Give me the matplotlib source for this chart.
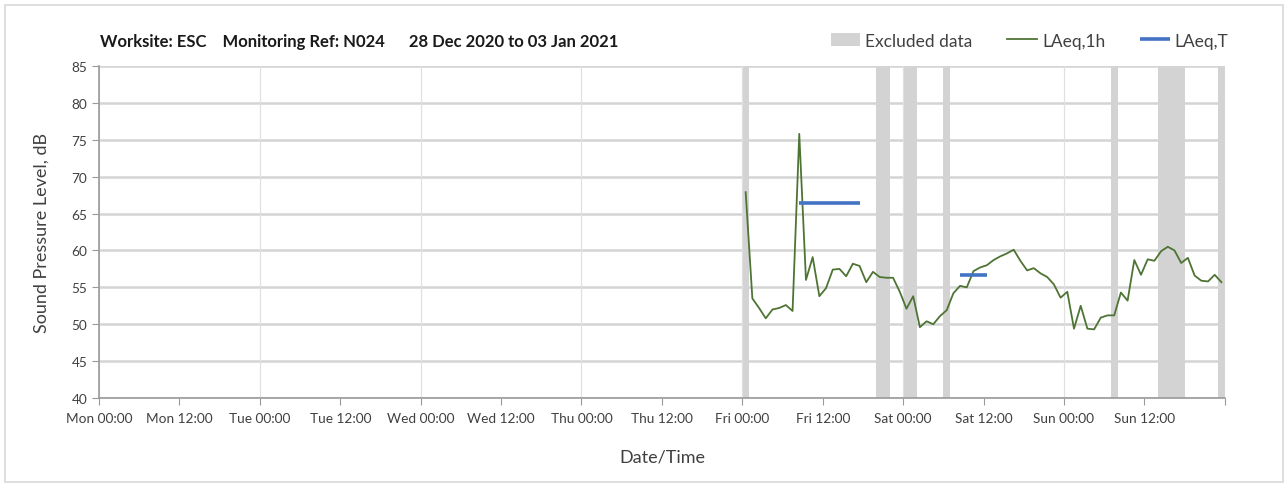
import pandas as pd
import matplotlib
matplotlib.use('Agg')
import matplotlib.pyplot as plt
from matplotlib.patches import Rectangle

plt.rcParams['font.family'] = ['Lato', 'DejaVu Sans']

# Hourly LAeq,1h values, Fri 01 Jan 2021 00:00 onwards (plotted mid-hour)
laeq_1h = [67.9, 53.5, 52.2, 50.8, 52.0, 52.2, 52.6, 51.8, 75.8, 56.0,
           59.1, 53.8, 54.9, 57.4, 57.5, 56.5, 58.2, 57.9, 55.7, 57.1,
           56.4, 56.3, 56.3, 54.4, 52.1, 53.8, 49.6, 50.4, 50.0, 51.1,
           51.9, 54.2, 55.2, 55.0, 57.2, 57.7, 58.0, 58.7, 59.2, 59.6,
           60.1, 58.6, 57.3, 57.6, 56.9, 56.4, 55.4, 53.6, 54.4, 49.4,
           52.5, 49.4, 49.3, 50.9, 51.2, 51.2, 54.3, 53.2, 58.7, 56.7,
           58.8, 58.6, 59.9, 60.5, 60.0, 58.3, 59.0, 56.6, 55.9, 55.8,
           56.7, 55.7]
times_1h = pd.date_range('2021-01-01 00:30', periods=len(laeq_1h), freq='h')

# LAeq,T periods
laeq_t_start = ['2021-01-01 08:30', '2021-01-02 08:30']
laeq_t_end = ['2021-01-01 17:30', '2021-01-02 12:30']
laeq_t = [66.4, 56.7]

# Excluded data periods
excl_start = ['2021-01-01 00:00', '2021-01-01 20:00', '2021-01-02 00:00',
              '2021-01-02 06:00', '2021-01-03 07:00', '2021-01-03 14:00',
              '2021-01-03 23:00']
excl_end = ['2021-01-01 01:00', '2021-01-01 22:00', '2021-01-02 02:00',
            '2021-01-02 07:00', '2021-01-03 08:00', '2021-01-03 18:00',
            '2021-01-04 00:00']

week_start = pd.Timestamp('2020-12-28 00:00')
week_end = pd.Timestamp('2021-01-04 00:00')

fig = plt.figure(figsize=(12.88, 4.89), dpi=100)
fig.patches.append(Rectangle((0.004, 0.012), 0.992, 0.976, transform=fig.transFigure,
                             fill=False, edgecolor='#d9d9d9', linewidth=1.2))
ax = fig.add_axes([0.0769, 0.184, 0.874, 0.679])

for s, e in zip(excl_start, excl_end):
    ax.axvspan(pd.Timestamp(s), pd.Timestamp(e), color='#d3d3d3', lw=0, zorder=0,
               label='Excluded data' if s == excl_start[0] else None)

ax.plot(times_1h, laeq_1h, color='#4e7434', lw=1.3, label='LAeq,1h', zorder=3)
for i, (s, e) in enumerate(zip(laeq_t_start, laeq_t_end)):
    ax.plot([pd.Timestamp(s), pd.Timestamp(e)], [laeq_t[i], laeq_t[i]], color='#4472c4',
            lw=2.6, solid_capstyle='butt', label='LAeq,T' if i == 0 else None, zorder=4)

ax.set_xlim(week_start, week_end)
ax.set_ylim(40, 85)
ax.set_yticks(range(40, 86, 5))

ticks = pd.date_range(week_start, week_end, freq='12h')
ax.set_xticks(ticks)
ax.set_xticklabels([t.strftime('%a %H:%M') for t in ticks[:-1]] + [''])

# grid: horizontal every 5 dB, vertical every day
ax.grid(axis='y', color='#d4d4d4', lw=1.8, zorder=1)
for d in pd.date_range(week_start, week_end, freq='24h'):
    ax.axvline(d, color='#e0e0e0', lw=0.9, zorder=1)
ax.set_axisbelow(True)

for side in ['top', 'right']:
    ax.spines[side].set_visible(False)
for side in ['left', 'bottom']:
    ax.spines[side].set_color('#9a9a9a')
    ax.spines[side].set_linewidth(1.2)
ax.tick_params(axis='both', direction='out', length=5, color='#9a9a9a',
               labelsize=9.8, labelcolor='#404040')
ax.tick_params(axis='x', pad=5)

ax.set_ylabel('Sound Pressure Level, dB', fontsize=13, color='#404040', labelpad=16)
ax.set_xlabel('Date/Time', fontsize=13, color='#404040', labelpad=18)

fig.text(0.078, 0.915, 'Worksite: ESC    Monitoring Ref: N024      28 Dec 2020 to 03 Jan 2021',
         fontsize=12, fontweight='bold', color='#1a1a1a', va='center')

ax.legend(loc='center right', bbox_to_anchor=(0.966, 0.915), bbox_transform=fig.transFigure,
          ncol=3, frameon=False, fontsize=12.5, handlelength=1.7, handletextpad=0.3,
          columnspacing=2.0, labelcolor='#404040')

fig.savefig('out.png', dpi=100)
